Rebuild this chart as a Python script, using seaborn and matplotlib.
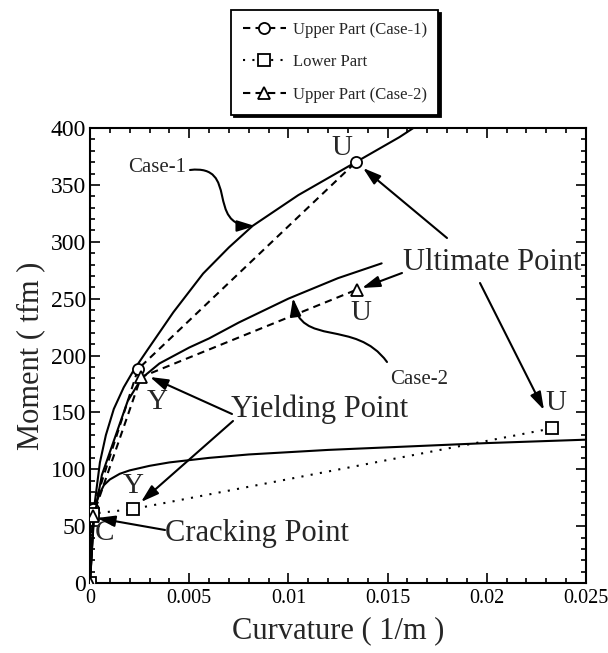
import numpy as np
import pandas as pd
import matplotlib
matplotlib.use("Agg")
import matplotlib.pyplot as plt
from matplotlib.path import Path
from matplotlib.patches import FancyArrowPatch
from matplotlib.ticker import MultipleLocator, FixedLocator, FixedFormatter
import seaborn as sns

# ---------------- data ----------------
# Marker series (Cracking, Yielding, Ultimate points)
upper1_x = [0.0, 0.00015, 0.00242, 0.0134]
upper1_y = [0.0, 65.0, 188.0, 370.0]
lower_x = [0.0, 0.00015, 0.00217, 0.0233]
lower_y = [0.0, 61.0, 65.0, 136.0]
upper2_x = [0.0, 0.00015, 0.00257, 0.01346]
upper2_y = [0.0, 59.0, 181.0, 258.0]

# Continuous (solid) analytical curves
case1_x = [0.0, 0.0002, 0.0005, 0.0008, 0.0012, 0.0017, 0.0022, 0.0029, 0.0042,
           0.0057, 0.007, 0.0082, 0.0105, 0.012, 0.0134, 0.0156, 0.0163]
case1_y = [0.0, 65.0, 106.0, 130.0, 153.0, 172.0, 187.0, 205.0, 238.0,
           272.0, 295.0, 314.0, 341.0, 356.0, 370.0, 392.0, 400.0]
case2_x = [0.0, 0.0002, 0.0006, 0.0013, 0.0019, 0.0026, 0.0035, 0.005, 0.006,
           0.0075, 0.010, 0.0125, 0.0147]
case2_y = [0.0, 58.0, 95.0, 130.0, 160.0, 180.0, 193.0, 207.0, 215.0,
           229.0, 250.0, 268.0, 281.0]
lowc_x = [0.0, 0.0002, 0.0003, 0.0005, 0.0007, 0.001, 0.0015, 0.002, 0.003,
          0.004, 0.006, 0.008, 0.012, 0.016, 0.020, 0.025]
lowc_y = [0.0, 62.0, 70.0, 79.0, 86.0, 91.0, 96.0, 99.0, 103.0,
          106.0, 110.0, 113.0, 117.0, 120.0, 123.0, 126.0]

series_labels = ["Upper Part (Case-1)", "Lower Part", "Upper Part (Case-2)"]
xtick_vals = [0.0, 0.005, 0.01, 0.015, 0.02, 0.025]
xtick_labels = ["0", "0.005", "0.01", "0.015", "0.02", "0.025"]
ytick_vals = [0, 50, 100, 150, 200, 250, 300, 350, 400]
ytick_labels = ["0", "50", "100", "150", "200", "250", "300", "350", "400"]

# ---------------- style ----------------
sns.set_style("ticks")
plt.rcParams["font.family"] = ["Liberation Serif", "DejaVu Serif"]

W, H = 608, 653
fig = plt.figure(figsize=(W / 100, H / 100), dpi=100)
ax = fig.add_axes([90 / W, 1 - 583 / H, 496 / W, 455 / H])

def px(x, y):
    """convert pixel position of the reference into data coords (for annotations)"""
    return ((x - 90) / 496 * 0.025, (583 - y) / (455 / 400))

# solid curves
for cx, cy in [(case1_x, case1_y), (case2_x, case2_y), (lowc_x, lowc_y)]:
    sns.lineplot(x=cx, y=cy, ax=ax, color="black", lw=1.5, sort=False,
                 estimator=None, zorder=2)

# marker series
mk = dict(markersize=8, markerfacecolor="white", markeredgecolor="black",
          markeredgewidth=1.3, color="black", lw=1.5, zorder=4)
sns.lineplot(x=upper1_x, y=upper1_y, ax=ax, sort=False, estimator=None,
             marker="o", dashes=False, linestyle=(0, (3.5, 2.5)),
             label=series_labels[0], **mk)
sns.lineplot(x=lower_x, y=lower_y, ax=ax, sort=False, estimator=None,
             marker="s", dashes=False, linestyle=(0, (1, 3.5)),
             label=series_labels[1], **mk)
sns.lineplot(x=upper2_x, y=upper2_y, ax=ax, sort=False, estimator=None,
             marker="^", dashes=False, linestyle=(0, (3.5, 2.5)),
             label=series_labels[2], **mk)

ax.set_xlim(0, 0.025)
ax.set_ylim(0, 400)
ax.xaxis.set_major_locator(FixedLocator(xtick_vals))
ax.xaxis.set_major_formatter(FixedFormatter(xtick_labels))
ax.yaxis.set_major_locator(FixedLocator(ytick_vals))
ax.yaxis.set_major_formatter(FixedFormatter(ytick_labels))
ax.xaxis.set_minor_locator(MultipleLocator(0.001))
ax.yaxis.set_minor_locator(MultipleLocator(10))
ax.tick_params(which="both", direction="in", top=True, right=True, width=1.2,
               colors="black")
ax.tick_params(which="major", length=7)
ax.tick_params(which="minor", length=3.5)
ax.tick_params(axis="x", labelsize=14.5, pad=4)
ax.tick_params(axis="y", labelsize=17, pad=3)
for s in ax.spines.values():
    s.set_visible(True)
    s.set_linewidth(1.5)
    s.set_color("black")

ax.set_xlabel("Curvature ( 1/m )", fontsize=22, labelpad=6)
ax.set_ylabel("Moment ( tfm )", fontsize=22, labelpad=4)

# legend
leg = ax.legend(loc="upper left", bbox_to_anchor=(231 / W, 1 - 10 / H),
                bbox_transform=fig.transFigure, borderaxespad=0,
                fontsize=12, handlelength=2.6, handletextpad=0.4,
                labelspacing=1.0, borderpad=0.7, fancybox=False,
                frameon=True, edgecolor="black", framealpha=1,
                shadow={"color": "black", "alpha": 1})
leg.get_frame().set_linewidth(1.3)

# ---------------- annotations ----------------
big = 21
ax.text(*px(342, 148), "U", fontsize=big, ha="center", va="center")
ax.text(*px(361, 313), "U", fontsize=big, ha="center", va="center")
ax.text(*px(556, 403), "U", fontsize=big, ha="center", va="center")
ax.text(*px(157, 402), "Y", fontsize=big, ha="center", va="center")
ax.text(*px(133, 486), "Y", fontsize=big, ha="center", va="center")
ax.text(*px(104, 533), "C", fontsize=big, ha="center", va="center")

ax.text(*px(492, 262), "Ultimate Point", fontsize=22, ha="center", va="center")
ax.text(*px(320, 409), "Yielding Point", fontsize=22, ha="center", va="center")
ax.text(*px(257, 533), "Cracking Point", fontsize=22, ha="center", va="center")
ax.text(*px(157, 167), "Case-1", fontsize=15, ha="center", va="center")
ax.text(*px(419, 380), "Case-2", fontsize=15, ha="center", va="center")

arrow_kw = dict(arrowstyle="-|>,head_length=0.9,head_width=0.28", color="black",
                lw=1.5, shrinkA=0, shrinkB=0, mutation_scale=12, zorder=5)

def arrow(p0, p1):
    ax.annotate("", xy=px(*p1), xytext=px(*p0),
                arrowprops=dict(**arrow_kw))

arrow((447, 238), (363, 168))
arrow((402, 273), (362, 288))
arrow((480, 283), (544, 410))
arrow((232, 414), (150, 377))
arrow((233, 421), (141, 502))
arrow((165, 530), (97, 518))

def curly(pts):
    verts = [px(*p) for p in pts]
    path = Path(verts, [Path.MOVETO, Path.CURVE4, Path.CURVE4, Path.CURVE4])
    patch = FancyArrowPatch(path=path, **arrow_kw)
    ax.add_patch(patch)

curly([(190, 170), (240, 164), (205, 226), (255, 226)])
curly([(387, 362), (355, 318), (300, 348), (293, 298)])

fig.savefig("out.png", dpi=100)
